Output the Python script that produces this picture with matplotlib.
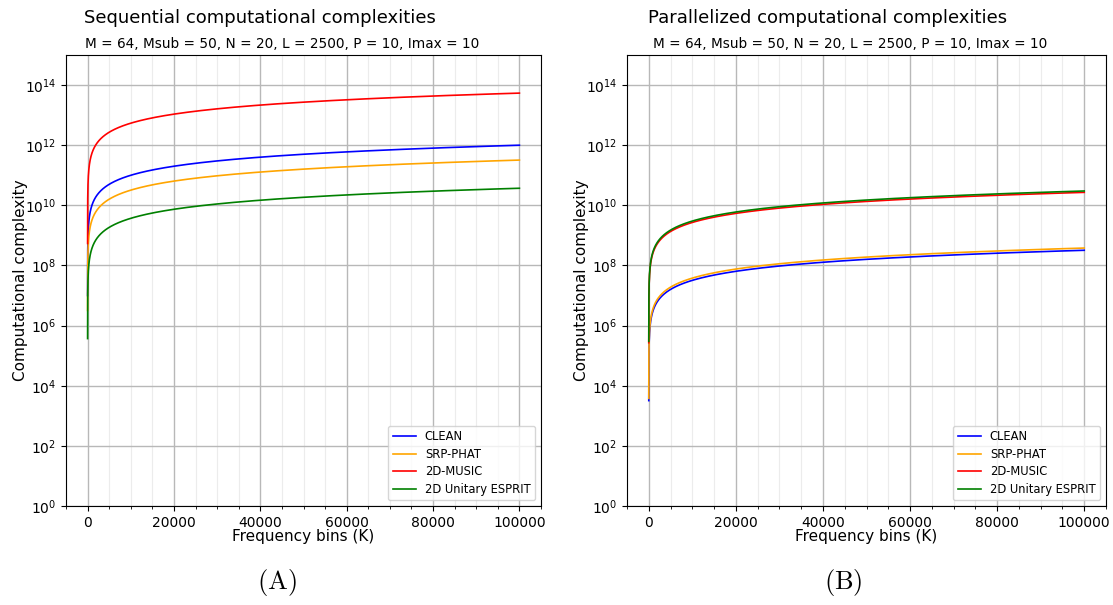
import numpy as np
import matplotlib
matplotlib.use("Agg")
import matplotlib.pyplot as plt
from matplotlib.ticker import MultipleLocator, NullLocator, LogLocator

plt.rcParams["mathtext.fontset"] = "cm"

# Methods and line colours
methods = ["CLEAN", "SRP-PHAT", "2D-MUSIC", "2D Unitary ESPRIT"]
colors = ["blue", "orange", "red", "green"]

# Complexity reached at the largest number of frequency bins (K = 100000)
k_max = 100000
sequential_at_kmax = [1.0e12, 3.2e11, 5.4e13, 3.7e10]
parallel_at_kmax = [3.2e8, 3.8e8, 2.7e10, 3.0e10]

subtitle = "M = 64, Msub = 50, N = 20, L = 2500, P = 10, Imax = 10"
titles = ["Sequential computational complexities", "Parallelized computational complexities"]
panel_tags = [r"$(\mathrm{A})$", r"$(\mathrm{B})$"]

# Complexity grows linearly with the number of frequency bins
K = np.arange(1, k_max + 1)

W, H = 1113, 605
fig = plt.figure(figsize=(W / 100, H / 100), dpi=100)

axes_px = [(66, 541), (627, 1106)]
top_px, bottom_px = 55, 506
title_x = [260, 828]
sub_x = [282, 850]
tag_x = [277, 843]

for i, (series, (x0, x1)) in enumerate(zip([sequential_at_kmax, parallel_at_kmax], axes_px)):
    ax = fig.add_axes([x0 / W, 1 - bottom_px / H, (x1 - x0) / W, (bottom_px - top_px) / H])
    for name, col, end in zip(methods, colors, series):
        ax.plot(K, end * K / k_max, color=col, lw=1.2, label=name)
    ax.set_yscale("log")
    ax.set_ylim(1, 1e15)
    ax.set_xlim(-5000, 105000)
    ax.xaxis.set_major_locator(MultipleLocator(20000))
    ax.xaxis.set_minor_locator(MultipleLocator(5000))
    ax.yaxis.set_major_locator(LogLocator(base=100.0))
    ax.yaxis.set_minor_locator(NullLocator())
    ax.grid(True, which="major", color="#b8b8b8", lw=1.0)
    ax.grid(True, which="minor", axis="x", color="#ececec", lw=0.8)
    ax.set_axisbelow(True)
    ax.tick_params(labelsize=10)
    ax.set_xlabel("Frequency bins (K)", fontsize=11, labelpad=-0.5)
    ax.set_ylabel("Computational complexity", fontsize=11, labelpad=-2)
    ax.legend(loc="lower right", fontsize=8.3, labelspacing=0.38)
    fig.text(title_x[i] / W, 1 - 18 / H, titles[i], ha="center", va="center", fontsize=13)
    fig.text(sub_x[i] / W, 1 - 44 / H, subtitle, ha="center", va="center", fontsize=9.8)
    fig.text(tag_x[i] / W, 1 - 582 / H, panel_tags[i], ha="center", va="center", fontsize=19)

fig.savefig("out.png", dpi=100, facecolor="white")
